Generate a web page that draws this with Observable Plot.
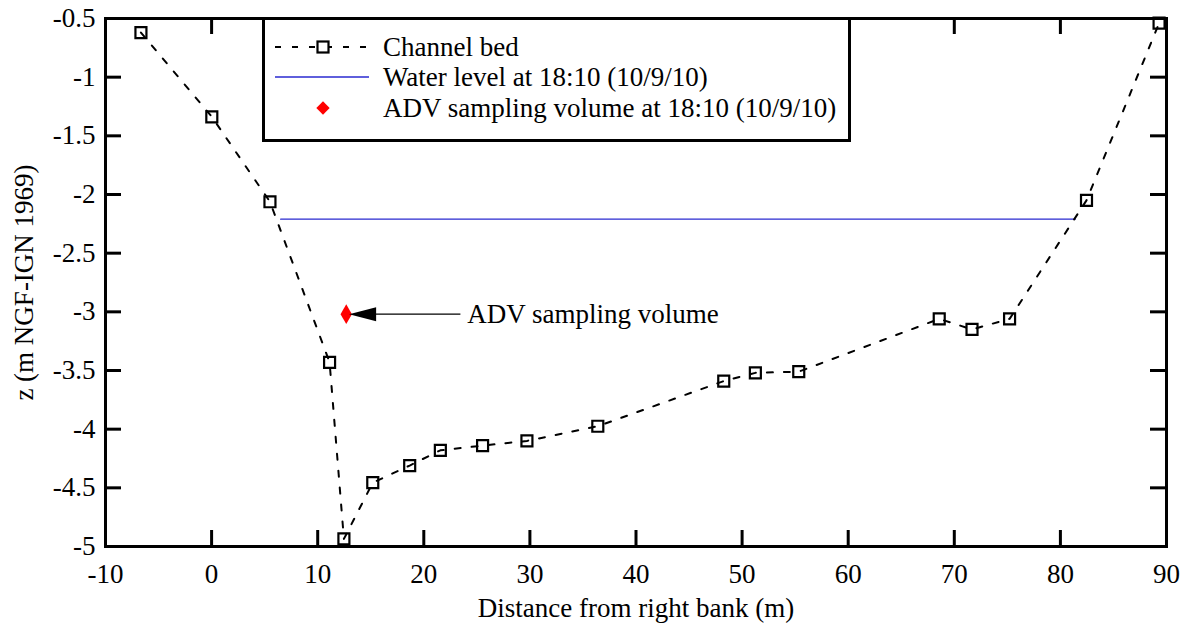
<!DOCTYPE html>
<html>
<head>
<meta charset="utf-8">
<script src="https://cdn.jsdelivr.net/npm/d3@7"></script>
<script src="https://cdn.jsdelivr.net/npm/@observablehq/plot@0.6"></script>
<style>
  body { margin: 0; background: #fff; }
  #wrap { position: relative; width: 1190px; height: 626px; }
  #legend { position: absolute; left: 262px; top: 17px; width: 583px; height: 119px;
            border: 3px solid #000; background: #fff; }
  svg text { font-family: "Liberation Serif", "Times New Roman", serif; }
</style>
</head>
<body>
<div id="wrap"></div>
<script>
// ---- data ----
const bedDistance = [-6.66, 0.02, 5.5, 11.12, 12.47, 15.19, 18.67, 21.56, 25.54, 29.72, 36.4, 48.27, 51.25, 55.34, 68.58, 71.67, 75.21, 82.46, 89.3];
const bedZ        = [-0.62, -1.338, -2.062, -3.43, -4.935, -4.456, -4.31, -4.18, -4.14, -4.10, -3.975, -3.59, -3.52, -3.51, -3.06, -3.15, -3.06, -2.05, -0.54];

const waterDistance = [6.51, 81.4];
const waterZ        = [-2.21, -2.21];

const advDistance = [12.69];
const advZ        = [-3.02];

const annotationText  = ["ADV sampling volume"];
const annotationFrom  = [23.45];   // shaft start (distance)
const annotationTo    = [12.96];   // arrow tip (distance)
const annotationLabelX = [24.1];
const annotationZ     = [-3.02];

const xTicks = [-10, 0, 10, 20, 30, 40, 50, 60, 70, 80, 90];
const yTicks = [-5, -4.5, -4, -3.5, -3, -2.5, -2, -1.5, -1, -0.5];

const legendLabels = ["Channel bed", "Water level at 18:10 (10/9/10)", "ADV sampling volume at 18:10 (10/9/10)"];

const xLabel = "Distance from right bank (m)";
const yLabel = "z (m NGF-IGN 1969)";

// ---- tables ----
const bed = bedDistance.map((d, i) => ({x: d, y: bedZ[i]}));
const water = waterDistance.map((d, i) => ({x: d, y: waterZ[i]}));
const adv = advDistance.map((d, i) => ({x: d, y: advZ[i]}));
const annot = annotationText.map((t, i) => ({text: t, x1: annotationFrom[i], x2: annotationTo[i], lx: annotationLabelX[i], y: annotationZ[i]}));

const font = "Liberation Serif";
const FS = 27;
const arrowHead = {
  draw(ctx) { ctx.moveTo(0, 0); ctx.lineTo(27, -7); ctx.lineTo(27, 7); ctx.closePath(); }
};

const W = 1190, H = 626, mT = 18, mB = 80, mL = 105, mR = 24;
const plotH = H - mT - mB, plotW = W - mL - mR;
const tickLen = 16;
const blue = "#2a2ad0";

const chart = Plot.plot({
  width: W, height: H,
  marginTop: mT, marginBottom: mB, marginLeft: mL, marginRight: mR,
  style: {fontFamily: font, fontSize: FS + "px", background: "#fff", color: "#000"},
  x: {domain: [-10, 90], label: null},
  y: {domain: [-5, -0.5], label: null},
  marks: [
    // tick labels
    Plot.axisX(xTicks, {tickSize: 0, tickPadding: 17, tickFormat: d => String(d), fontSize: FS, fontFamily: font, label: null}),
    Plot.axisY(yTicks, {tickSize: 0, tickPadding: 10, tickFormat: d => String(d), fontSize: FS, fontFamily: font, label: null}),
    // inward ticks on all four sides
    Plot.tickX(xTicks, {x: d => d, insetTop: plotH - tickLen, stroke: "#000", strokeWidth: 3}),
    Plot.tickX(xTicks, {x: d => d, insetBottom: plotH - tickLen, stroke: "#000", strokeWidth: 3}),
    Plot.tickY(yTicks, {y: d => d, insetRight: plotW - tickLen, stroke: "#000", strokeWidth: 3}),
    Plot.tickY(yTicks, {y: d => d, insetLeft: plotW - tickLen, stroke: "#000", strokeWidth: 3}),
    // water level
    Plot.line(water, {x: "x", y: "y", stroke: blue, strokeWidth: 1.3}),
    // channel bed
    Plot.line(bed, {x: "x", y: "y", stroke: "#000", strokeWidth: 2, strokeDasharray: "6,11"}),
    Plot.dot(bed, {x: "x", y: "y", symbol: "square", r: 6.2, stroke: "#000", strokeWidth: 2.2, fill: "none"}),
    // ADV point
    Plot.dot(adv, {x: "x", y: "y", symbol: "diamond", r: 6, fill: "#ff0000", stroke: "none"}),
    // annotation
    Plot.link(annot, {x1: "x1", x2: d => d.x2 + 2, y1: "y", y2: "y", stroke: "#000", strokeWidth: 1.3}),
    Plot.dot(annot, {x: "x2", y: "y", symbol: arrowHead, fill: "#000", stroke: "none"}),
    Plot.text(annot, {x: "lx", y: "y", text: "text", textAnchor: "start", fontSize: FS, fontFamily: font, fill: "#000"}),
    // axis labels
    Plot.text([xLabel], {frameAnchor: "bottom", lineAnchor: "middle", textAnchor: "middle", dy: 62, fontSize: FS, fontFamily: font, fill: "#000"}),
    Plot.text([yLabel], {frameAnchor: "left", lineAnchor: "middle", textAnchor: "middle", dx: -81, rotate: -90, fontSize: FS, fontFamily: font, fill: "#000"}),
    Plot.frame({stroke: "#000", strokeWidth: 3})
  ]
});

const wrap = document.getElementById("wrap");
wrap.appendChild(chart);

// ---- legend (overlay inside the plot frame) ----
const leg = document.createElement("div");
leg.id = "legend";
const ls = d3.create("svg").attr("width", 583).attr("height", 119).style("display", "block");
const rowY = [27, 57, 88];
const symX0 = 10, symX1 = 104, symC = 58, textX = 118;
// row 1: dashed line + square
ls.append("line").attr("x1", symX0).attr("x2", symX1).attr("y1", rowY[0]).attr("y2", rowY[0])
  .attr("stroke", "#000").attr("stroke-width", 2).attr("stroke-dasharray", "6,11");
ls.append("rect").attr("x", symC - 5.5).attr("y", rowY[0] - 5.5).attr("width", 11).attr("height", 11)
  .attr("fill", "#fff").attr("stroke", "#000").attr("stroke-width", 2.2);
// row 2: blue line
ls.append("line").attr("x1", symX0).attr("x2", symX1).attr("y1", rowY[1]).attr("y2", rowY[1])
  .attr("stroke", blue).attr("stroke-width", 1.3);
// row 3: red diamond
ls.append("path").attr("d", d3.symbol(d3.symbolDiamond2, 6 * 6 * Math.PI)())
  .attr("transform", `translate(${symC},${rowY[2]})`).attr("fill", "#ff0000");
legendLabels.forEach((t, i) => {
  ls.append("text").attr("x", textX).attr("y", rowY[i]).attr("dy", "0.35em")
    .attr("font-size", FS).attr("font-family", font).attr("fill", "#000").text(t);
});
leg.appendChild(ls.node());
wrap.appendChild(leg);
</script>
</body>
</html>
